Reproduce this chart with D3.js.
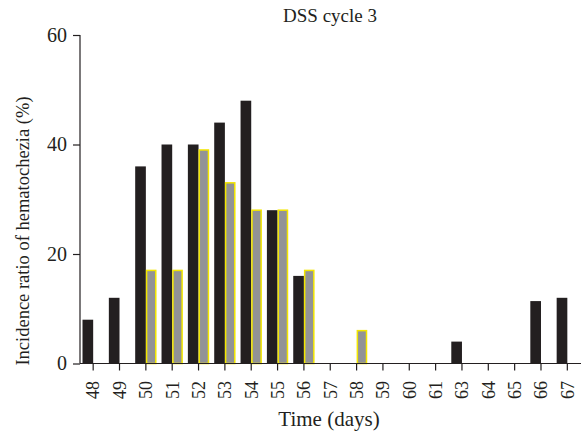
<!DOCTYPE html>
<html>
<head>
<meta charset="utf-8">
<script src="https://cdn.jsdelivr.net/npm/d3@7"></script>
<style>
	body { margin:0; background:#fff; }
	text { font-family:"Liberation Serif","DejaVu Serif",serif; fill:#231f20; }
</style>
</head>
<body>
<svg id="chart" width="581" height="436"></svg>
<script>
// Data
const days = ['48','49','50','51','52','53','54','55','56','57','58','59','60','61','63','64','65','66','67'];
const seriesA = [8, 12, 36, 40, 40, 44, 48, 28, 16, 0, 0, 0, 0, 0, 4, 0, 0, 11.4, 12];
const seriesB = [0, 0, 17, 17, 39, 33, 28, 28, 17, 0, 6, 0, 0, 0, 0, 0, 0, 0, 0];
const yTicks = [0, 20, 40, 60];

const title = 'DSS cycle 3';
const xAxisLabel = 'Time (days)';
const yAxisLabel = 'Incidence ratio of hematochezia (%)';

const svg = d3.select('#chart');
const margin = {left:80, right:0.5, top:35, bottom:72.5};
const W = +svg.attr('width');
const H = +svg.attr('height');

const xScale = d3.scaleBand()
	.domain(days)
	.range([margin.left, W - margin.right])
	.padding(0);

const groupW = xScale.step()*0.81;
const sub = d3.scaleBand()
	.domain(['A','B'])
	.range([0, groupW])
	.padding(0);

const yScale = d3.scaleLinear()
	.domain([0,60])
	.range([H - margin.bottom, margin.top]);

const g = svg.append('g');

// bars
const rows = days.map((d,i)=>({day:d, A:seriesA[i], B:seriesB[i]}));
const grp = g.selectAll('g.grp').data(rows).enter().append('g')
	.attr('class','grp')
	.attr('transform', d=>`translate(${xScale(d.day)+xScale.bandwidth()/2-groupW/2},0)`);

grp.filter(d=>d.A>0).append('rect')
	.attr('x', sub('A'))
	.attr('width', sub.bandwidth())
	.attr('y', d=>yScale(d.A))
	.attr('height', d=>yScale(0)-yScale(d.A))
	.attr('fill','#231f20');

grp.filter(d=>d.B>0).append('rect')
	.attr('x', sub('B')+0.75)
	.attr('width', sub.bandwidth()-1.5)
	.attr('y', d=>yScale(d.B))
	.attr('height', d=>yScale(0)-yScale(d.B))
	.attr('fill','#929396')
	.attr('stroke','#f2e600')
	.attr('stroke-width',1.5);

// x axis
const xAxis = d3.axisBottom(xScale).tickSize(7).tickFormat('');
const xAxisG = g.append('g')
	.attr('transform',`translate(0,${yScale(0)})`)
	.call(xAxis);
xAxisG.select('.domain').attr('stroke','#231f20').attr('stroke-width',1.2)
	.attr('d',`M${margin.left},0H${W}`);
xAxisG.selectAll('.tick line').attr('stroke','#231f20').attr('stroke-width',1.2);

g.selectAll('text.xlab').data(days).enter().append('text')
	.attr('class','xlab')
	.attr('transform', d=>`translate(${xScale(d)+xScale.bandwidth()/2},381) rotate(-90)`)
	.attr('text-anchor','end')
	.attr('dy','0.35em')
	.style('font-size','18px')
	.text(d=>d);

// y axis
const yAxis = d3.axisLeft(yScale).tickValues(yTicks).tickSize(7).tickPadding(6);
const yAxisG = g.append('g')
	.attr('transform',`translate(${margin.left},0)`)
	.call(yAxis);
yAxisG.select('.domain').attr('stroke','#231f20').attr('stroke-width',1.2)
	.attr('d',`M0,${yScale(60)}V${yScale(0)}`);
yAxisG.selectAll('.tick line').attr('stroke','#231f20').attr('stroke-width',1.2);
yAxisG.selectAll('.tick text')
	.style('font-family','"Liberation Serif","DejaVu Serif",serif')
	.style('font-size','20px')
	.attr('fill','#231f20');

// labels
g.append('text')
	.attr('x',330).attr('y',22)
	.attr('text-anchor','middle')
	.style('font-size','19px')
	.text(title);

g.append('text')
	.attr('x',329).attr('y',426)
	.attr('text-anchor','middle')
	.style('font-size','21px')
	.text(xAxisLabel);

g.append('text')
	.attr('transform','translate(29,231) rotate(-90)')
	.attr('text-anchor','middle')
	.style('font-size','18.5px')
	.text(yAxisLabel);
</script>
</body>
</html>
